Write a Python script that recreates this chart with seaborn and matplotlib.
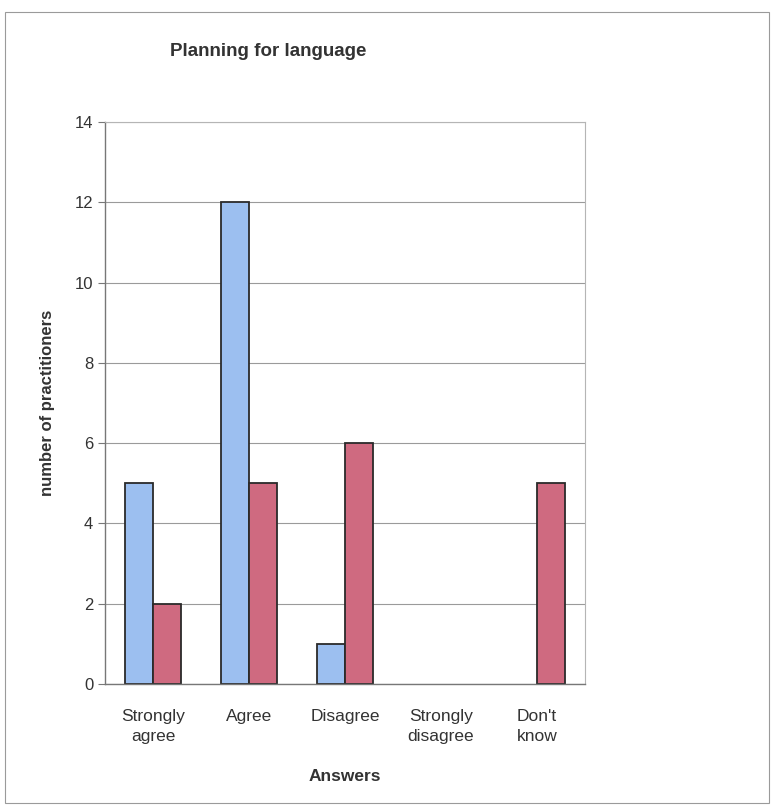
import pandas as pd
import matplotlib.pyplot as plt
import seaborn as sns
from matplotlib.patches import Rectangle

answers = ["Strongly\nagree", "Agree", "Disagree", "Strongly\ndisagree", "Don't\nknow"]
series_names = ["Series 1", "Series 2"]
series1 = [5, 12, 1, 0, 0]
series2 = [2, 5, 6, 0, 5]
y_ticks = [0, 2, 4, 6, 8, 10, 12, 14]

df = pd.DataFrame({
    "answer": answers * 2,
    "group": [series_names[0]] * len(answers) + [series_names[1]] * len(answers),
    "count": series1 + series2,
})

sns.set_style("white")
plt.rcParams['font.family'] = ['Liberation Sans', 'DejaVu Sans']

fig = plt.figure(figsize=(7.73, 8.08), dpi=100)
ax = fig.add_axes([0.1358, 0.1535, 0.621, 0.6955])

sns.barplot(data=df, x="answer", y="count", hue="group", order=answers,
            hue_order=series_names, palette=["#9cbff0", "#cf6a80"],
            width=0.58, edgecolor="#2a2a2a", linewidth=1.3, ax=ax,
            legend=False, saturation=1)

# empty bars are not drawn in the original
for p in ax.patches:
    if p.get_height() == 0:
        p.set_visible(False)

ax.set_ylim(0, 14)
ax.set_xlim(-0.5, len(answers) - 0.5)
ax.set_yticks(y_ticks)
ax.yaxis.grid(True, color="#9a9a9a", linewidth=0.8)
ax.set_axisbelow(True)

# category separators as ticks
ax.set_xticks([i + 0.5 for i in range(-1, len(answers))], minor=True)
ax.tick_params(axis="x", which="major", length=0, labelsize=12.5, pad=18, colors="#333333")
ax.tick_params(axis="x", which="minor", length=5, color="#777777", direction="out")
ax.tick_params(axis="y", length=5, color="#777777", direction="out", left=True,
               labelsize=12, colors="#333333")
for lbl in ax.get_xticklabels():
    lbl.set_linespacing(1.45)

for side in ["top", "right"]:
    ax.spines[side].set_color("#b5b5b5")
    ax.spines[side].set_linewidth(0.8)
for side in ["left", "bottom"]:
    ax.spines[side].set_color("#777777")
    ax.spines[side].set_linewidth(1.0)

ax.set_xlabel("Answers", fontsize=12.5, fontweight="bold", color="#333333", labelpad=18)
ax.set_ylabel("number of practitioners", fontsize=12, fontweight="bold", color="#333333", labelpad=14)
fig.text(0.347, 0.936, "Planning for language", ha="center", va="center",
         fontsize=13.5, fontweight="bold", color="#333333")

# outer chart border
fig.patches.append(Rectangle((0.007, 0.006), 0.988, 0.979, transform=fig.transFigure,
                             fill=False, edgecolor="#9a9a9a", linewidth=0.8))

fig.savefig("out.png", dpi=100)
